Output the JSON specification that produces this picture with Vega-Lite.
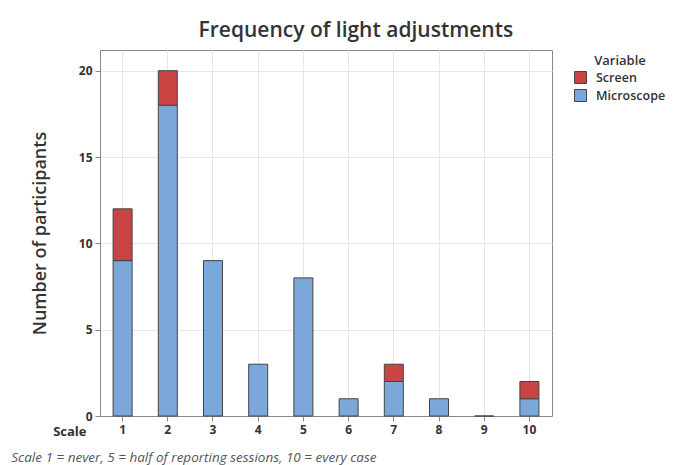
{
  "$schema": "https://vega.github.io/schema/vega-lite/v6.json",
  "padding": {"left": 10, "top": 19, "right": 5, "bottom": 0},
  "autosize": {"type": "pad"},
  "background": "white",
  "title": {"text": "Frequency of light adjustments", "anchor": "middle", "fontSize": 21, "font": "Open Sans", "fontWeight": 600, "color": "#333333", "offset": 9, "dx": 15},
  "config": {
    "view": {"stroke": "#888888", "strokeWidth": 1},
    "axis": {"domainColor": "#888888", "tickColor": "#888888", "gridColor": "#e6e6e6", "labelFont": "Open Sans", "labelFontWeight": "bold", "labelFontSize": 12, "labelColor": "#333333", "titleFont": "Open Sans", "titleColor": "#333333", "tickSize": 5},
    "legend": {"labelFont": "Open Sans", "titleFont": "Open Sans"}
  },
  "vconcat": [
    {
      "width": 452,
      "height": 366,
      "title": {"text": "Scale 1 = never, 5 = half of reporting sessions, 10 = every case", "orient": "bottom", "anchor": "start", "fontStyle": "italic", "fontWeight": "normal", "fontSize": 13.5, "color": "#555555", "font": "Open Sans", "offset": 13, "frame": "bounds", "dx": -20},
      "data": {"values": [
        {"scale": 1, "Variable": "Microscope", "count": 9},
        {"scale": 1, "Variable": "Screen", "count": 3},
        {"scale": 2, "Variable": "Microscope", "count": 18},
        {"scale": 2, "Variable": "Screen", "count": 2},
        {"scale": 3, "Variable": "Microscope", "count": 9},
        {"scale": 4, "Variable": "Microscope", "count": 3},
        {"scale": 5, "Variable": "Microscope", "count": 8},
        {"scale": 6, "Variable": "Microscope", "count": 1},
        {"scale": 7, "Variable": "Microscope", "count": 2},
        {"scale": 7, "Variable": "Screen", "count": 1},
        {"scale": 8, "Variable": "Microscope", "count": 1},
        {"scale": 9, "Variable": "Microscope", "count": 0},
        {"scale": 10, "Variable": "Microscope", "count": 1},
        {"scale": 10, "Variable": "Screen", "count": 1}
      ]},
      "mark": {"type": "bar", "stroke": "#444444", "strokeWidth": 1, "width": 19},
      "encoding": {
        "x": {
          "field": "scale", "type": "ordinal",
          "scale": {"paddingInner": 0.58, "paddingOuter": 0.29},
          "axis": {"title": "Scale", "labelAngle": 0, "grid": true, "bandPosition": 0.5, "labelPadding": 3, "titleAnchor": "start", "titleAlign": "right", "titleBaseline": "alphabetic", "titleX": -14, "titleY": 19, "titleFontSize": 13, "titleFontWeight": "bold"}
        },
        "y": {
          "field": "count", "type": "quantitative", "stack": "zero",
          "scale": {"domain": [0, 21.2], "nice": false},
          "axis": {"title": "Number of participants", "values": [0, 5, 10, 15, 20], "titleFontSize": 18, "titleFontWeight": 600, "titlePadding": 29, "labelPadding": 3}
        },
        "color": {
          "field": "Variable", "type": "nominal",
          "scale": {"domain": ["Screen", "Microscope"], "range": ["#C94443", "#7BA7DB"]},
          "legend": {"title": "Variable", "orient": "right", "offset": 16, "titleAnchor": "middle", "titleFontSize": 13, "titleFontWeight": 600, "titleColor": "#333333", "titlePadding": 3, "labelFontSize": 12.5, "labelFontWeight": 600, "labelColor": "#333333", "labelOffset": 9, "symbolType": "square", "symbolSize": 144, "symbolStrokeColor": "#444444", "symbolStrokeWidth": 1, "symbolOpacity": 1, "rowPadding": 1, "padding": 5}
        },
        "order": {"field": "Variable", "sort": "ascending"}
      }
    }
  ]
}
